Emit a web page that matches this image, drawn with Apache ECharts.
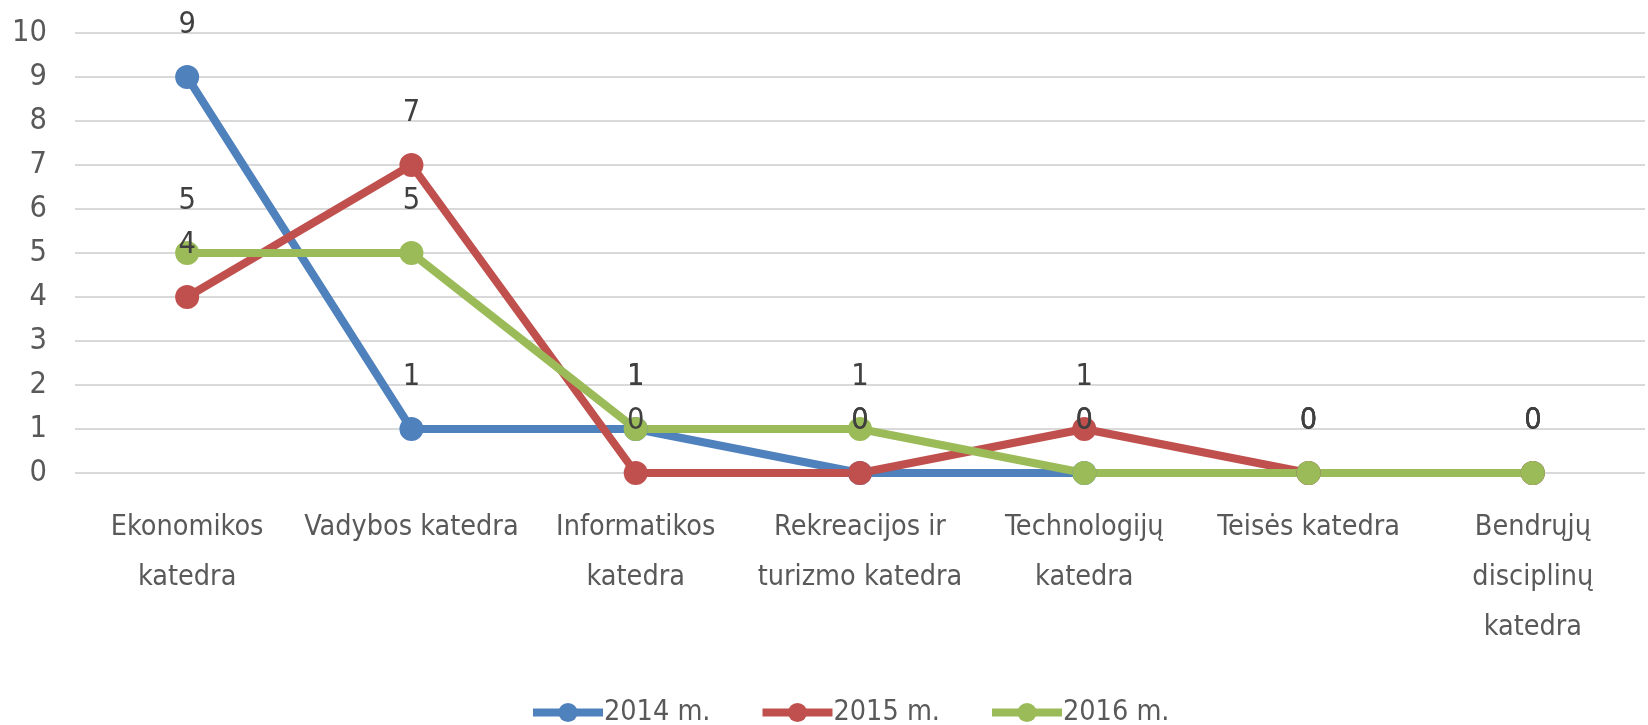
<!DOCTYPE html>
<html>
<head>
<meta charset="utf-8">
<script src="https://cdn.jsdelivr.net/npm/echarts@6/dist/echarts.min.js"></script>
<style>html,body{margin:0;padding:0;background:#fff}#c{width:1648px;height:725px}</style>
</head>
<body>
<div id="c"></div>
<script>
const categories = ["Ekonomikos\nkatedra", "Vadybos katedra", "Informatikos\nkatedra", "Rekreacijos ir\nturizmo katedra", "Technologijų\nkatedra", "Teisės katedra", "Bendrųjų\ndisciplinų\nkatedra"];
const seriesNames = ["2014 m.", "2015 m.", "2016 m."];
const values2014 = [9, 1, 1, 0, 0, 0, 0];
const values2015 = [4, 7, 0, 0, 1, 0, 0];
const values2016 = [5, 5, 1, 1, 0, 0, 0];
const colors = ["#4F81BD", "#C0504D", "#9BBB59"];

const FONT = "'Liberation Sans Narrow', 'DejaVu Sans Condensed', 'Arial Narrow', sans-serif";
const FS = 28.5;
const chart = echarts.init(document.getElementById('c'));
function mk(name, data, color) {
  return {
    name: name, type: 'line', data: data,
    symbol: 'circle', symbolSize: 24,
    lineStyle: { width: 8, color: color },
    itemStyle: { color: color },
    label: { show: true, position: 'top', distance: 24, fontFamily: FONT, fontSize: FS + 2, lineHeight: 32, color: '#404040' },
    emphasis: { disabled: true },
    animation: false
  };
}
chart.setOption({
  animation: false,
  grid: { left: 75, right: 3, top: 33, bottom: 252, containLabel: false },
  legend: {
    bottom: -2, left: 529, padding: 0,
    itemWidth: 70, itemHeight: 24, itemGap: 48,
    lineStyle: { width: 8 },
    textStyle: { fontFamily: FONT, fontSize: FS, color: '#595959', padding: [0, 0, 0, -4] },
    data: seriesNames
  },
  xAxis: {
    type: 'category', data: categories, boundaryGap: true,
    axisLine: { show: false }, axisTick: { show: false },
    axisLabel: { interval: 0, margin: 30, fontFamily: FONT, fontSize: FS, lineHeight: 50, color: '#595959' }
  },
  yAxis: {
    type: 'value', min: 0, max: 10, interval: 1,
    axisLine: { show: false }, axisTick: { show: false },
    axisLabel: { margin: 28, fontFamily: FONT, fontSize: FS + 2, color: '#595959' },
    splitLine: { lineStyle: { color: '#d9d9d9', width: 2 } }
  },
  series: [mk(seriesNames[0], values2014, colors[0]), mk(seriesNames[1], values2015, colors[1]), mk(seriesNames[2], values2016, colors[2])]
});
</script>
</body>
</html>
